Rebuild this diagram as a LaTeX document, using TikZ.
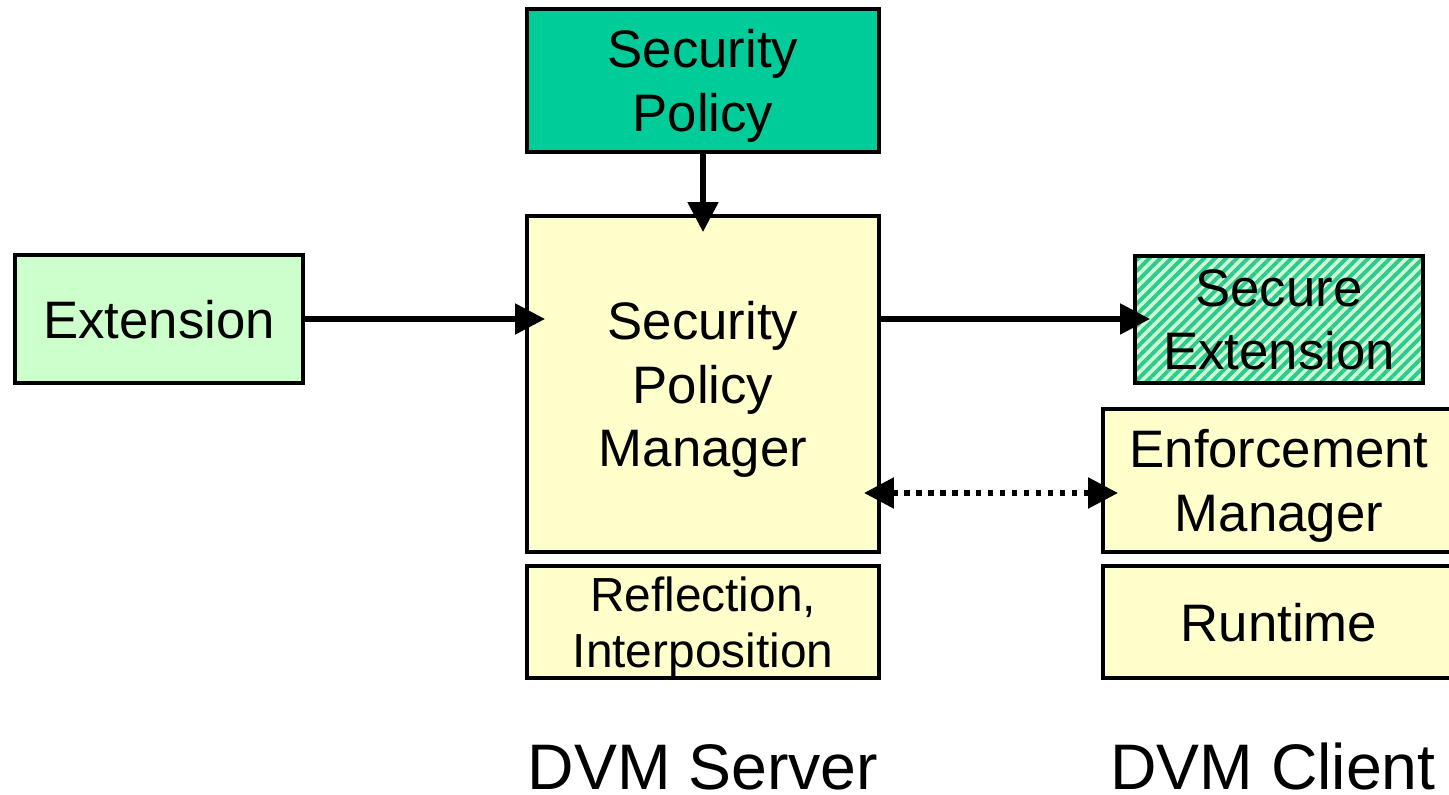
\documentclass[tikz,border=0pt]{standalone}
\usepackage{fontspec}
\setmainfont{Liberation Sans}
\usetikzlibrary{arrows.meta,patterns.meta}
\definecolor{policygreen}{HTML}{00CC99}
\definecolor{paleyellow}{HTML}{FFFFCC}
\definecolor{palegreen}{HTML}{CCFFCC}
\definecolor{stripegreen}{HTML}{2EC897}
\tikzset{
  box/.style={draw=black, line width=1.1pt, inner sep=0pt, outer sep=0pt,
    align=center, text depth=0pt, font=\fontsize{15}{18}\selectfont},
  smallbox/.style={box, font=\fontsize{13.6}{16}\selectfont},
  arr/.style={line width=1.5pt, -{Triangle[width=8.5pt,length=8.5pt]}},
  dotarr/.style={line width=1.6pt, dash pattern=on 1.5pt off 1.9pt,
    {Triangle[width=8.5pt,length=8.5pt]}-{Triangle[width=8.5pt,length=8.5pt]}},
  caption/.style={font=\fontsize{18.3}{22}\selectfont, anchor=base,
    inner sep=0pt, text depth=0pt},
}
\begin{document}
\begin{tikzpicture}[x=0.01cm, y=-0.01cm]
\useasboundingbox (0,0) rectangle (1449,795);
\clip (0,0) rectangle (1449,795);

% server side
\node[box, fill=policygreen, minimum width=3.52cm, minimum height=1.43cm] (sp) at (703,80.5) {Security\\Policy};
\node[box, fill=paleyellow, minimum width=3.52cm, minimum height=3.36cm] (spm) at (703,384) {Security\\Policy\\Manager};
\node[smallbox, fill=paleyellow, minimum width=3.52cm, minimum height=1.12cm] (refl) at (703,622) {Reflection,\\Interposition};

% incoming extension
\node[box, fill=palegreen, minimum width=2.88cm, minimum height=1.28cm] (ext) at (159,319) {Extension};

% client side
\node[box, preaction={fill=palegreen},
  pattern={Lines[angle=45,distance=2.2pt,line width=1.1pt]}, pattern color=stripegreen,
  minimum width=2.88cm, minimum height=1.27cm] (sext) at (1279,319.5) {Secure\\Extension};
\node[box, fill=paleyellow, minimum width=3.52cm, minimum height=1.43cm] (enf) at (1279,480.5) {Enforcement\\Manager};
\node[box, fill=paleyellow, minimum width=3.52cm, minimum height=1.12cm] (rt) at (1279,622) {Runtime};

% arrow tips reaching into the boxes
\coordinate (spmtop) at (703,232);
\coordinate (spmleft) at (545,319);
\coordinate (sextleft) at (1150,319);
\coordinate (spmright) at (864,493);
\coordinate (enfleft) at (1118,493);

\draw[arr] (sp.south) -- (spmtop);
\draw[arr] (ext.east) -- (spmleft);
\draw[arr] (spm.east |- ext.east) -- (sextleft);
\draw[dotarr] (spmright) -- (enfleft);

% captions
\node[caption] (srv) at (703,790) {DVM Server};
\node[caption] (cli) at (1273,790) {DVM Client};
\end{tikzpicture}
\end{document}
